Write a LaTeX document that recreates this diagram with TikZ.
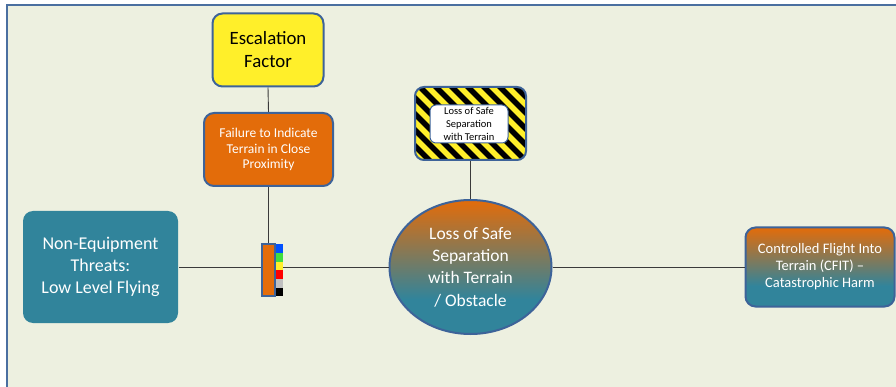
\documentclass[tikz,border=0pt]{standalone}
\usepackage{fontspec}
\setmainfont{Carlito}
\usetikzlibrary{shapes.geometric}
\definecolor{panelbg}{HTML}{EDF0E0}
\definecolor{frameblue}{HTML}{4A6FA0}
\definecolor{edgeblue}{HTML}{3D6399}
\definecolor{warnorange}{HTML}{E36C0A}
\definecolor{tealfill}{HTML}{31849B}
\definecolor{escyellow}{HTML}{FFEF2A}
\definecolor{linkgray}{HTML}{3A3A3A}
% orange at the top fading to teal in the lower part
\pgfdeclareverticalshading{orangeteal}{100bp}{
  color(0bp)=(tealfill); color(25bp)=(tealfill); color(38bp)=(tealfill);
  color(75bp)=(warnorange); color(100bp)=(warnorange)}
\tikzset{
  box/.style={rectangle, rounded corners=10pt, inner sep=0pt, align=center,
              line width=2pt},
  link/.style={draw=linkgray, line width=0.9pt},
  gradfill/.style={shading=orangeteal},
}
\begin{document}
\begin{tikzpicture}[x=1pt,y=-1pt]
\useasboundingbox (0,0) rectangle (896,387);
\fill[white] (0,0) rectangle (896,387);
\fill[panelbg] (7,5) rectangle (896,387);
\draw[frameblue, line width=2pt] (7,387) -- (7,5) -- (896,5);

% threat
\node[box, fill=tealfill, text=white, minimum width=155pt, minimum height=112pt,
      font=\fontsize{18}{21.7}\selectfont] (threat) at (100.5,267)
  {Non-Equipment\\Threats:\\Low Level Flying};

% escalation factor and its barrier
\node[box, draw=edgeblue, fill=escyellow, minimum width=111pt, minimum height=73pt,
      font=\fontsize{18.8}{23}\selectfont] (escf) at (268,50) {Escalation\\Factor};
\node[box, draw=edgeblue, fill=warnorange, text=white, minimum width=129pt,
      minimum height=73pt, font=\fontsize{13.5}{15.8}\selectfont] (escb) at (268.5,149.5)
  {Failure to Indicate\\Terrain in Close\\Proximity};

% barrier with status colours
\node[rectangle, draw=edgeblue, line width=2pt, fill=warnorange, inner sep=0pt,
      minimum width=13pt, minimum height=51pt] (barrier) at (268,270) {};
\foreach \c [count=\k from 0] in {0050FF,3FDD3F,FFEF2A,FF0000,C0C0C0,000000}{
  \definecolor{seg}{HTML}{\c}
  \fill[seg] (276,244.5+8.6*\k) rectangle (283,244.5+8.6*\k+8.6);
}
\coordinate (stackR) at (283,267);

% hazard
\begin{scope}
  \clip[rounded corners=9pt] (415,87) rectangle (526,160);
  \fill[black] (415,87) rectangle (526,160);
  \foreach \i in {-90,-74,...,130}
    \draw[escyellow, line width=5.5pt] (415+\i,80) -- (415+\i+90,170);
\end{scope}
\node[rectangle, rounded corners=9pt, draw=edgeblue, line width=2pt,
      minimum width=111pt, minimum height=73pt] (hazard) at (470.5,123.5) {};
\node[box, draw=edgeblue, line width=1pt, fill=white, minimum width=78pt,
      minimum height=38pt, rounded corners=6pt, font=\fontsize{10.5}{12.6}\selectfont]
  (hazlabel) at (469,124) {Loss of Safe\\Separation\\with Terrain};

% top event
\node[ellipse, draw=edgeblue, line width=2pt, gradfill, text=white, inner sep=0pt,
      minimum width=162pt, minimum height=134pt,
      font=\fontsize{17.5}{22.3}\selectfont, align=center] (top) at (470.5,267)
  {Loss of Safe\\Separation\\with Terrain\\/ Obstacle};

% consequence
\node[box, draw=edgeblue, gradfill, text=white, minimum width=149pt,
      minimum height=79pt, font=\fontsize{14.5}{17}\selectfont] (cons) at (820,267)
  {Controlled Flight Into\\Terrain (CFIT) --\\Catastrophic Harm};

% connectors
\draw[link] (escf.south) -- (escb.north);
\draw[link] (escb.south -| barrier.north) -- (barrier.north);
\draw[link] (hazard.south) -- (top.north);
\draw[link] (threat.east) -- (threat.east -| barrier.west);
\draw[link] (stackR) -- (top.west);
\draw[link] (top.east) -- (cons.west);
\end{tikzpicture}
\end{document}
